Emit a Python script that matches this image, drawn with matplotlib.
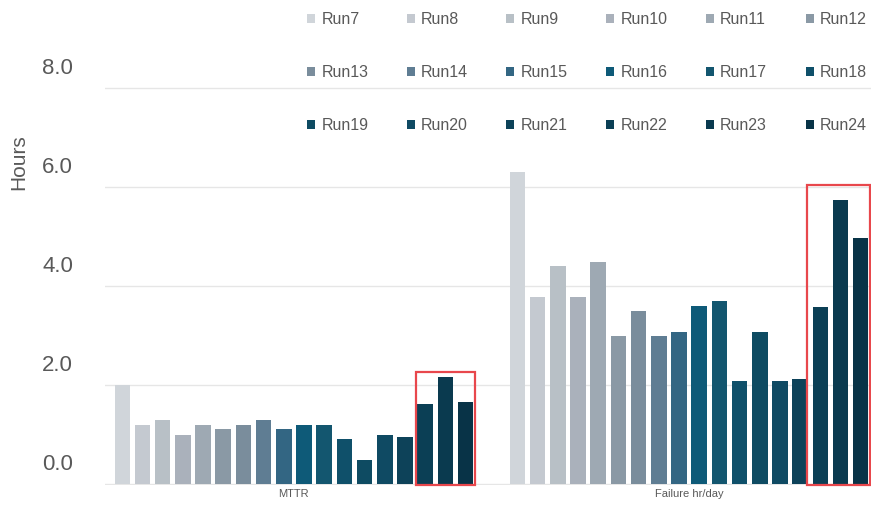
import matplotlib
matplotlib.use("Agg")
import matplotlib.pyplot as plt
import matplotlib.transforms as mtransforms
from matplotlib.patches import Rectangle
import numpy as np

plt.rcParams['font.family'] = ['Liberation Sans', 'DejaVu Sans']

# data
groups = ["MTTR", "Failure hr/day"]
runs = ["Run%d" % i for i in range(7, 25)]
mttr = [2.00, 1.19, 1.29, 0.99, 1.19, 1.11, 1.19, 1.29, 1.11, 1.19, 1.19,
        0.90, 0.49, 0.99, 0.96, 1.61, 2.16, 1.65]
failure = [6.31, 3.78, 4.41, 3.78, 4.49, 3.00, 3.49, 3.00, 3.08, 3.59, 3.69,
           2.09, 3.08, 2.09, 2.12, 3.57, 5.74, 4.97]
colors = ["#d0d5da", "#c4c9d0", "#b8c0c6", "#aab1bb", "#9ea9b3", "#8a99a5",
          "#7a8d9c", "#5f7d93", "#336683", "#0e5a78", "#13566f", "#0f506a",
          "#0e4b62", "#0f4a63", "#0d4259", "#0b3f55", "#0a3a4f", "#083347"]
highlight = ["Run22", "Run23", "Run24"]
yticks = [0, 2, 4, 6, 8]

grey = "#595959"
fig = plt.figure(figsize=(8.71, 5.07), dpi=100)
ax = fig.add_axes([105 / 871, 22 / 507, (878 - 105) / 871, 485 / 507])

x = np.arange(len(groups))
pitch = 0.0511
width = 0.0392
n = len(runs)
handles = []
for i, run in enumerate(runs):
    off = (i - (n - 1) / 2) * pitch
    b = ax.bar(x + off, [mttr[i], failure[i]], width, color=colors[i],
               label=run, zorder=2)
    handles.append(b)

# red boxes around the highlighted runs
first = runs.index(highlight[0])
last = runs.index(highlight[-1])
box_tops = [2.26, 6.05]
box_pads = [0.004, 0.015]
for g in range(len(groups)):
    left = x[g] + (first - (n - 1) / 2) * pitch - width / 2 - box_pads[g]
    right = x[g] + (last - (n - 1) / 2) * pitch + width / 2 + 0.004
    ax.add_patch(Rectangle((left, -0.02), right - left, box_tops[g] + 0.02,
                           fill=False, edgecolor="#e8474c", lw=1.6, zorder=3,
                           clip_on=False))

ax.set_xlim(-0.478, 1.478)
ax.set_ylim(-0.02, 9.78)
ax.set_yticks(yticks)
ax.set_yticklabels(["%.1f" % v for v in yticks])
ax.set_xticks(x)
ax.set_xticklabels(groups)
ax.tick_params(axis='y', length=0, pad=23, labelsize=16, labelcolor=grey)
ax.tick_params(axis='x', length=0, pad=3, labelsize=8, labelcolor=grey)
shift = mtransforms.ScaledTranslation(0, 0.22, fig.dpi_scale_trans)
for lab in ax.get_yticklabels():
    lab.set_transform(lab.get_transform() + shift)

ax.grid(axis='y', color="#e6e6e6", lw=1, zorder=0)
for s in ax.spines.values():
    s.set_visible(False)

ax.set_ylabel("Hours", fontsize=15, color=grey)
ax.yaxis.set_label_coords(-0.0996, 0.666)

# legend filled row by row: Run7..Run12 on the first row
order = [r * 6 + c for c in range(6) for r in range(3)]
fig.legend([handles[k] for k in order], [runs[k] for k in order],
           loc='upper left', bbox_to_anchor=(0.345, 0.988), ncol=6,
           frameon=False, fontsize=11.5, labelcolor=grey,
           handlelength=0.5, handleheight=0.5, handletextpad=0.4,
           columnspacing=2.4, labelspacing=2.37, borderaxespad=0)

fig.savefig("out.png", dpi=100)
